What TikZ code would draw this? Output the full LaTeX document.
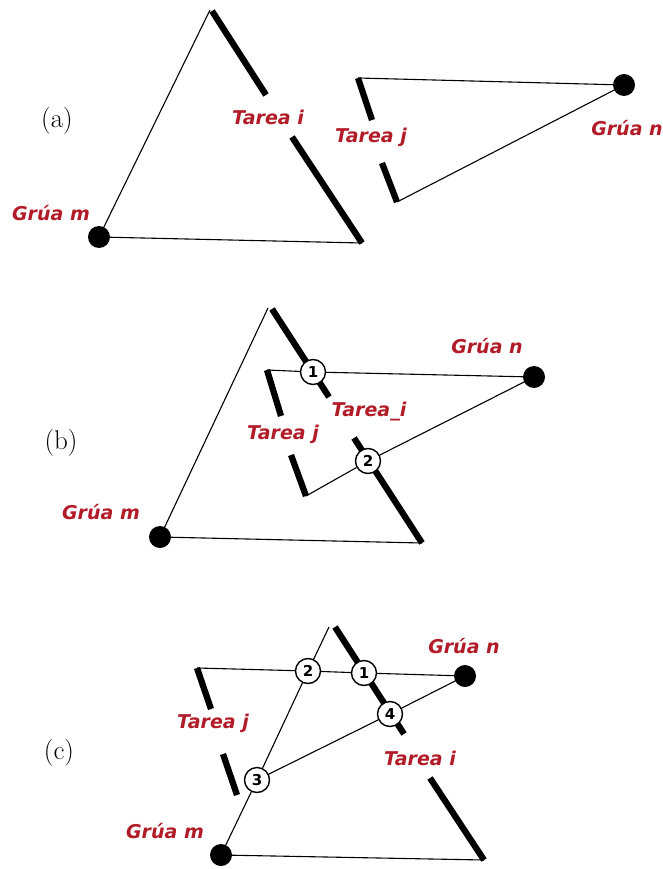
\documentclass[tikz,border=0pt]{standalone}
\usepackage{fontspec}
\usetikzlibrary{backgrounds}
\newfontfamily\labfont{DejaVu Sans}
\definecolor{labred}{RGB}{178,28,40}
\begin{document}
\begin{tikzpicture}[x=1pt,y=-1pt,
  thinline/.style={draw=black, line width=1.1pt},
  task/.style={draw=black, line width=6.3pt},
  crane/.style={circle, fill=black, minimum size=22pt, inner sep=0pt},
  cross/.style={circle, draw=black, fill=white, line width=1.4pt, minimum size=25pt, inner sep=0pt, font=\labfont\bfseries\fontsize{15}{15}\selectfont},
  lab/.style={text=labred, font=\labfont\bfseries\itshape\fontsize{19}{19}\selectfont, inner sep=0pt},
  panel/.style={font=\fontsize{27}{27}\selectfont, inner sep=0pt}]
\useasboundingbox (0,0) rectangle (662,869);

% ---------- (a)
\coordinate (aA) at (210,10);
\coordinate (aI1) at (212,11); \coordinate (aI2) at (266,95);
\coordinate (aI3) at (292,137); \coordinate (aI4) at (362,243);
\coordinate (aJ1) at (358,78); \coordinate (aJ2) at (372,120);
\coordinate (aJ3) at (382,163); \coordinate (aJ4) at (397,202);
\node[crane] (am) at (99,237) {};
\node[crane] (an) at (624,85) {};
\node[panel] (alab) at (57,121) {(a)};
\node[lab] (aml) at (51,213) {Grúa m};
\node[lab] (anl) at (627,128) {Grúa n};
\node[lab] (ail) at (268,117) {Tarea i};
\node[lab] (ajl) at (371,137) {Tarea j};
\begin{scope}[on background layer]
\draw[thinline] (am.center) -- (aA);
\draw[thinline] (am.center) -- (aI4);
\draw[thinline] (aJ1) -- (an.center) -- (aJ4);
\draw[task] (aI1) -- (aI2);
\draw[task] (aI3) -- (aI4);
\draw[task] (aJ1) -- (aJ2);
\draw[task] (aJ3) -- (aJ4);
\end{scope}

% ---------- (b)
\coordinate (bA) at (268,308);
\coordinate (bI1) at (272,309); \coordinate (bI2) at (329,397);
\coordinate (bI3) at (354,438); \coordinate (bI4) at (422,543);
\coordinate (bJ1) at (267,370); \coordinate (bJ2) at (281,416);
\coordinate (bJ3) at (291,455); \coordinate (bJ4) at (306,496);
\node[crane] (bm) at (160,537) {};
\node[crane] (bn) at (534,377) {};
\node[cross] (b1) at (313,372) {1};
\node[cross] (b2) at (368,461) {2};
\node[panel] (blab) at (61,443) {(b)};
\node[lab] (bml) at (101,512) {Grúa m};
\node[lab] (bnl) at (487,346) {Grúa n};
\node[lab] (bil) at (369,412) {Tarea\_i};
\node[lab] (bjl) at (283,434) {Tarea j};
\begin{scope}[on background layer]
\draw[thinline] (bm.center) -- (bA);
\draw[thinline] (bm.center) -- (bI4);
\draw[thinline] (bJ1) -- (b1) -- (bn.center);
\draw[thinline] (bJ4) -- (b2) -- (bn.center);
\draw[task] (bI1) -- (bI2);
\draw[task] (bI3) -- (bI4);
\draw[task] (bJ1) -- (bJ2);
\draw[task] (bJ3) -- (bJ4);
\end{scope}

% ---------- (c)
\coordinate (cA) at (329,627);
\coordinate (cI1) at (335,627); \coordinate (cI2) at (404,734);
\coordinate (cI3) at (430,778); \coordinate (cI4) at (484,860);
\coordinate (cJ1) at (197,668); \coordinate (cJ2) at (211,709);
\coordinate (cJ3) at (223,754); \coordinate (cJ4) at (237,795);
\node[crane] (cm) at (221,855) {};
\node[crane] (cn) at (465,676) {};
\node[cross] (c1) at (364,673) {1};
\node[cross] (c2) at (308,671) {2};
\node[cross] (c3) at (257,780) {3};
\node[cross] (c4) at (390,714) {4};
\node[panel] (clab) at (59,753) {(c)};
\node[lab] (cml) at (165,831) {Grúa m};
\node[lab] (cnl) at (464,646) {Grúa n};
\node[lab] (cil) at (420,758) {Tarea i};
\node[lab] (cjl) at (213,723) {Tarea j};
\begin{scope}[on background layer]
\draw[thinline] (cJ1) -- (c2) -- (c1) -- (cn.center);
\draw[thinline] (cm.center) -- (c3) -- (c2) -- (cA);
\draw[thinline] (c3) -- (c4) -- (cn.center);
\draw[thinline] (cm.center) -- (cI4);
\draw[task] (cI1) -- (cI2);
\draw[task] (cI3) -- (cI4);
\draw[task] (cJ1) -- (cJ2);
\draw[task] (cJ3) -- (cJ4);
\end{scope}
\end{tikzpicture}
\end{document}
